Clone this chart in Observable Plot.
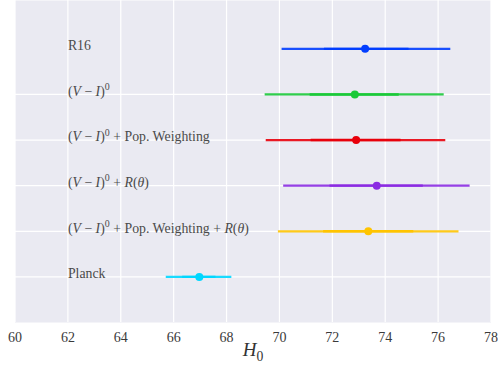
<!DOCTYPE html>
<html>
<head>
<meta charset="utf-8">
<script src="https://cdn.jsdelivr.net/npm/d3@7"></script>
<script src="https://cdn.jsdelivr.net/npm/@observablehq/plot@0.6"></script>
<style>
  html, body { margin: 0; padding: 0; background: #ffffff; }
  svg { display: block; }
</style>
</head>
<body>
<div id="chart"></div>
<script>
// Data
const labels = [
  "R16",
  "(V − I)⁰",
  "(V − I)⁰ + Pop. Weighting",
  "(V − I)⁰ + R(θ)",
  "(V − I)⁰ + Pop. Weighting + R(θ)",
  "Planck"
];
const rowPos   = [6, 5, 4, 3, 2, 1];
const centers  = [73.24, 72.85, 72.90, 73.68, 73.36, 66.97];
const innerLo  = [71.70, 71.16, 71.20, 71.91, 71.67, 66.34];
const innerHi  = [74.90, 74.53, 74.60, 75.44, 75.08, 67.60];
const outerLo  = [70.10, 69.46, 69.50, 70.16, 69.96, 65.72];
const outerHi  = [76.48, 76.23, 76.29, 77.21, 76.79, 68.20];
const colors   = ["#023eff", "#1ac938", "#e8000b", "#8b2be2", "#ffc400", "#00d7ff"];
const xTicks   = [60, 62, 64, 66, 68, 70, 72, 74, 76, 78];
const yGrid    = [1, 2, 3, 4, 5];
const xLabel   = "H₀";

const rows = labels.map((label, i) => ({
  label, y: rowPos[i], c: centers[i],
  ilo: innerLo[i], ihi: innerHi[i], olo: outerLo[i], ohi: outerHi[i], color: colors[i]
}));

const serif = "'Liberation Serif', 'DejaVu Serif', serif";

const chart = Plot.plot({
  width: 498,
  height: 365,
  marginLeft: 14.5,
  marginRight: 7.5,
  marginTop: 0,
  marginBottom: 43,
  style: { background: "#ffffff", fontFamily: serif },
  x: { domain: [60, 78] },
  y: { domain: [0, 7.06], axis: null },
  color: { type: "identity" },
  marks: [
    Plot.frame({ fill: "#eaeaf2", stroke: null }),
    Plot.ruleX(xTicks, { x: d => d, stroke: "#ffffff", strokeWidth: 1.2 }),
    Plot.ruleY(yGrid, { y: d => d, stroke: "#ffffff", strokeWidth: 1.2 }),
    Plot.axisX({ ticks: xTicks, tickSize: 0, tickPadding: 10, fontSize: 14, fill: "#3a3a3a", label: null, tickFormat: d => String(d), className: "xticks" }),
    Plot.ruleY(rows, { y: "y", x1: "olo", x2: "ohi", stroke: "color", strokeWidth: 2.2, strokeOpacity: 0.9 }),
    Plot.ruleY(rows, { y: "y", x1: "ilo", x2: "ihi", stroke: "color", strokeWidth: 2.4 }),
    Plot.dot(rows, { x: "c", y: "y", fill: "color", r: 4, stroke: null }),
    Plot.text(rows, { x: () => 62, y: "y", text: "label", textAnchor: "start", dy: -3, fontSize: 13.8, fill: "#4a4a4a", className: "rowlabels" }),
    Plot.text([xLabel], { x: () => 69, frameAnchor: "bottom", dy: 33, text: d => d, fontSize: 19, fill: "#333333", className: "xlabel" })
  ]
});

// Force serif everywhere
d3.select(chart).attr("font-family", serif);
d3.select(chart).selectAll("g").attr("font-family", null);
d3.select(chart).selectAll("text").attr("font-family", serif);

// LaTeX-like rendering: italic variables, real super/subscripts
function mathify(sel, str, fs) {
  sel.text(null);
  const parts = str.split(/(\b[VIRH]\b|θ|H(?=₀)|⁰|₀)/);
  let shift = 0;
  parts.forEach(p => {
    if (!p) return;
    if (p === "⁰" || p === "₀") {
      const d = p === "⁰" ? -0.42 * fs : 0.3 * fs;
      sel.append("tspan").attr("dy", d).attr("font-size", fs * 0.72).text("0");
      shift = -d;
      return;
    }
    const t = sel.append("tspan").text(p);
    if (shift) { t.attr("dy", shift); shift = 0; }
    if (/^([VIRH]|θ)$/.test(p)) t.attr("font-style", "italic");
  });
}
d3.select(chart).selectAll(".rowlabels text").each(function() {
  const s = d3.select(this);
  mathify(s, s.text(), 13.8);
});
d3.select(chart).selectAll(".xlabel text").each(function() {
  const s = d3.select(this);
  mathify(s, s.text(), 19);
});

document.getElementById("chart").appendChild(chart);
</script>
</body>
</html>
